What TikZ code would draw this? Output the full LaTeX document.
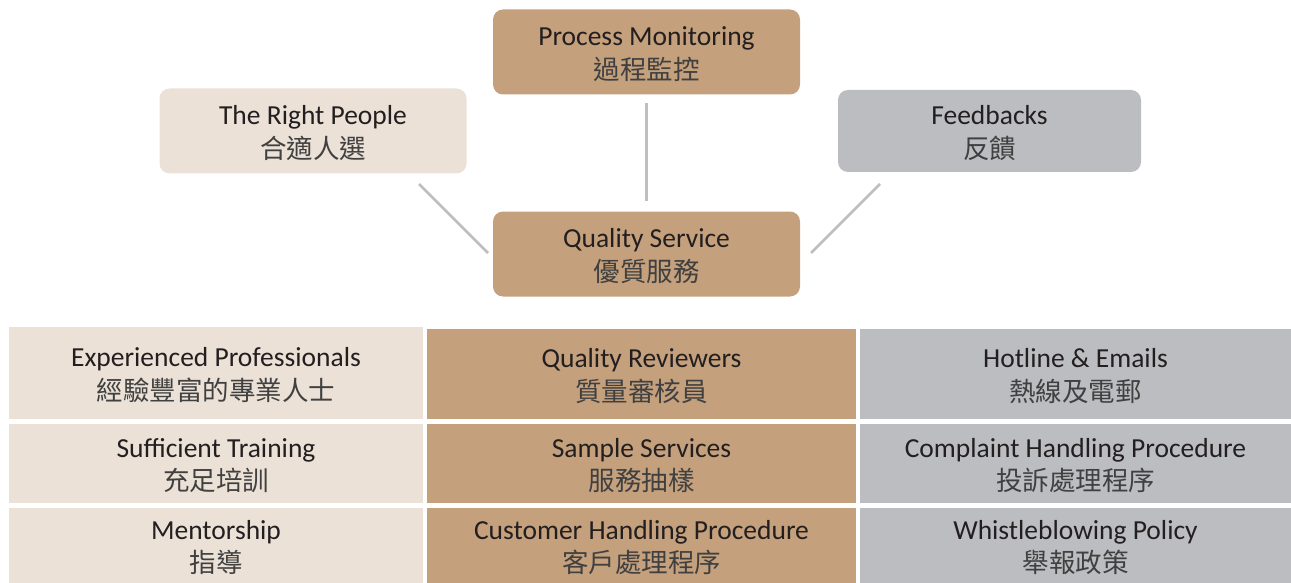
\documentclass[tikz,border=0pt]{standalone}
\usepackage{fontspec}
\setmainfont{Carlito}
\newfontfamily\cjk{Noto Sans CJK TC}
\definecolor{beige}{HTML}{EBE1D6}
\definecolor{tan}{HTML}{C4A07C}
\definecolor{greybox}{HTML}{BCBDC0}
\definecolor{conncol}{HTML}{BEBEBE}
\definecolor{entext}{HTML}{231F20}
\definecolor{zhtext}{HTML}{404040}
\newcommand{\bi}[2]{\rule{0pt}{27pt}{\color{entext}#1}\\[1.5pt]{\cjk\color{zhtext}\fontsize{26.5}{26.5}\selectfont #2}\rule[-6pt]{0pt}{6pt}}
\tikzset{
  box/.style={inner sep=0pt, outer sep=0pt, align=center, font=\fontsize{27.5}{32}\selectfont},
  topbox/.style={box, rounded corners=10pt, minimum width=307pt, minimum height=85pt},
  cell/.style={box},
  conn/.style={draw=conncol, line width=2.6pt}
}
\begin{document}
\begin{tikzpicture}[x=1pt,y=-1pt]
\useasboundingbox (0,0) rectangle (1291,583);
% top diagram
\node[topbox, fill=tan] (pm) at (646.5,52) {\bi{Process Monitoring}{過程監控}};
\node[topbox, fill=beige] (rp) at (313,131) {\bi{The Right People}{合適人選}};
\node[topbox, fill=greybox, minimum width=303pt, minimum height=82pt] (fb) at (989.5,131) {\bi{Feedbacks}{反饋}};
\node[topbox, fill=tan] (qs) at (646.5,254) {\bi{Quality Service}{優質服務}};
\coordinate (l1) at (419,184);
\coordinate (l2) at (488,253);
\coordinate (r1) at (880,184);
\coordinate (r2) at (811,253);
\draw[conn] (l1) -- (l2);
\draw[conn] (r1) -- (r2);
\draw[conn, shorten <=9pt, shorten >=11pt] (pm.south) -- (qs.north);
% bottom table
\node[cell, fill=beige, minimum width=414pt, minimum height=92pt] (c11) at (216,373) {\bi{Experienced Professionals}{經驗豐富的專業人士}};
\node[cell, fill=beige, minimum width=414pt, minimum height=79pt] (c21) at (216,463.5) {\bi{Sufficient Training}{充足培訓}};
\node[cell, fill=beige, minimum width=414pt, minimum height=75pt] (c31) at (216,545.5) {\bi{Mentorship}{指導}};
\node[cell, fill=tan, minimum width=429pt, minimum height=90pt] (c12) at (641.5,374) {\bi{Quality Reviewers}{質量審核員}};
\node[cell, fill=tan, minimum width=429pt, minimum height=79pt] (c22) at (641.5,463.5) {\bi{Sample Services}{服務抽樣}};
\node[cell, fill=tan, minimum width=429pt, minimum height=75pt] (c32) at (641.5,545.5) {\bi{Customer Handling Procedure}{客戶處理程序}};
\node[cell, fill=greybox, minimum width=431pt, minimum height=90pt] (c13) at (1075.5,374) {\bi{Hotline \& Emails}{熱線及電郵}};
\node[cell, fill=greybox, minimum width=431pt, minimum height=79pt] (c23) at (1075.5,463.5) {\bi{Complaint Handling Procedure}{投訴處理程序}};
\node[cell, fill=greybox, minimum width=431pt, minimum height=75pt] (c33) at (1075.5,545.5) {\bi{Whistleblowing Policy}{舉報政策}};
\end{tikzpicture}
\end{document}
